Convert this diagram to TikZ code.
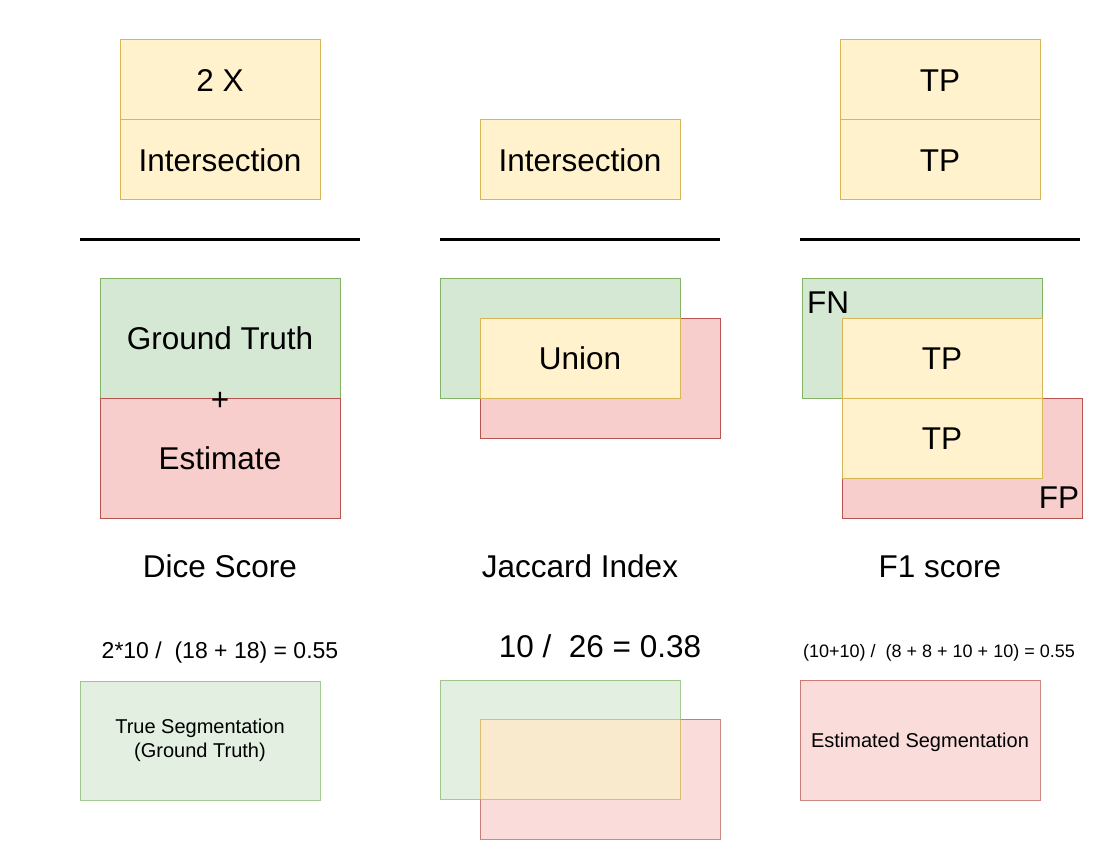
\documentclass[tikz,border=0pt]{standalone}
\usepackage{fontspec}
\setmainfont{Liberation Sans}
\definecolor{gfill}{HTML}{D5E8D4}
\definecolor{gdraw}{HTML}{82B366}
\definecolor{rfill}{HTML}{F8CECC}
\definecolor{rdraw}{HTML}{B85450}
\definecolor{yfill}{HTML}{FFF2CC}
\definecolor{ydraw}{HTML}{D6B656}
\tikzset{
  big/.style={font=\fontsize{31.5}{36}\selectfont},
  box/.style={draw, line width=1pt, inner sep=0pt, outer sep=0pt, anchor=north west,
    big, text height=22.6pt, text depth=0pt},
  gbox/.style={box, fill=gfill, draw=gdraw},
  rbox/.style={box, fill=rfill, draw=rdraw},
  ybox/.style={box, fill=yfill, draw=ydraw},
  faded/.style={fill opacity=0.7, draw opacity=0.7, text opacity=1},
  small/.style={font=\fontsize{20}{24}\selectfont, text height=14.3pt},
  lbl/.style={big, inner sep=0pt, anchor=base},
  bar/.style={line width=3pt},
}
\begin{document}
\begin{tikzpicture}[x=1pt,y=-1pt]
\useasboundingbox (0,0) rectangle (1100,850);

% ---- top: numerators
\node[ybox, minimum width=200pt, minimum height=80pt] (dtwo) at (120,40) {2 X};
\node[ybox, minimum width=200pt, minimum height=80pt] (dint) at (120,120) {Intersection};
\node[ybox, minimum width=200pt, minimum height=80pt] (jint) at (480,120) {Intersection};
\node[ybox, minimum width=200pt, minimum height=80pt] (ftpa) at (840,40) {TP};
\node[ybox, minimum width=200pt, minimum height=80pt] (ftpb) at (840,120) {TP};

% ---- fraction bars
\draw[bar] (80,240) -- (360,240);
\draw[bar] (440,240) -- (720,240);
\draw[bar] (800,240) -- (1080,240);

% ---- Dice denominator
\node[gbox, minimum width=240pt, minimum height=119pt] (dgt) at (100,279) {Ground Truth};
\node[rbox, minimum width=240pt, minimum height=120pt] (dest) at (100,398) {Estimate};
\node[lbl] (plus) at (220,410) {+};

% ---- Jaccard denominator
\node[gbox, minimum width=240pt, minimum height=119pt] (jgt) at (440,279) {};
\node[rbox, minimum width=240pt, minimum height=120pt] (jes) at (480,318) {};
\node[ybox, minimum width=200pt, minimum height=80pt] (jun) at (480,318) {Union};

% ---- F1 denominator
\node[gbox, minimum width=240pt, minimum height=119pt] (fgt) at (802,279) {};
\node[rbox, minimum width=240pt, minimum height=120pt] (fes) at (842,398) {};
\node[ybox, minimum width=200pt, minimum height=80pt] (ftpc) at (842,318) {TP};
\node[ybox, minimum width=200pt, minimum height=80pt] (ftpd) at (842,398) {TP};
\node[lbl] (fn) at (828,313) {FN};
\node[lbl] (fp) at (1059,508) {FP};

% ---- titles
\node[lbl] (dlab) at (220,577) {Dice Score};
\node[lbl] (jlab) at (580,577) {Jaccard Index};
\node[lbl] (flab) at (940,577) {F1 score};

% ---- formulas
\node[inner sep=0pt, anchor=base, font=\fontsize{23}{27}\selectfont] (dform) at (220,658) {2*10 /\ \ (18 + 18) = 0.55};
\node[lbl] (jform) at (600,657) {10 /\ \ 26 = 0.38};
\node[inner sep=0pt, anchor=base, font=\fontsize{18}{22}\selectfont] (fform) at (939,657) {(10+10) /\ \ (8 + 8 + 10 + 10) = 0.55};

% ---- bottom legend
\node[gbox, faded, minimum width=240pt, minimum height=119pt, font=\fontsize{20}{24}\selectfont,
  align=center, text height=, text depth=] (tseg) at (80,681) {True Segmentation\\(Ground Truth)};
\node[gbox, faded, minimum width=240pt, minimum height=119pt] (bgt) at (440,680) {};
\node[rbox, faded, minimum width=240pt, minimum height=120pt] (bes) at (480,719) {};
\node[ybox, faded, minimum width=200pt, minimum height=80pt] (bov) at (480,719) {};
\node[rbox, faded, small, minimum width=240pt, minimum height=120pt] (eseg) at (800,680) {Estimated Segmentation};
\end{tikzpicture}
\end{document}
